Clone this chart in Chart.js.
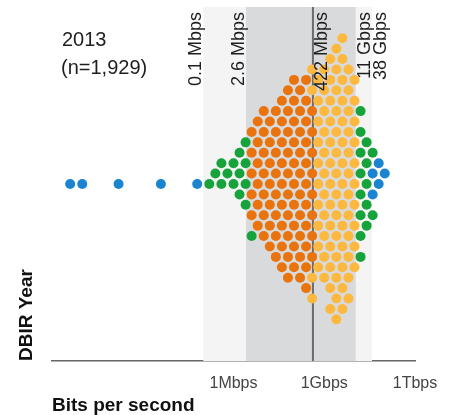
<!DOCTYPE html>
<html>
<head>
<meta charset="utf-8">
<script src="https://cdn.jsdelivr.net/npm/chart.js@4.4.1/dist/chart.umd.min.js"></script>
<style>
  html, body { margin: 0; padding: 0; background: #fff; }
  canvas { display: block; }
</style>
</head>
<body>
<canvas id="chart" width="455" height="415"></canvas>
<script>
// Attack sizes, binned in log10(bits per second); counts = dots per bin
const blueBins = [0.6, 1.0, 2.2, 3.6, 4.8, 10.6, 10.8, 11.0];
const blueCounts = [1, 1, 1, 1, 1, 2, 2, 1];
const greenBins = [5.2, 5.4, 5.6, 5.8, 6.0, 6.2, 6.4, 6.6, 10.2, 10.4, 10.6];
const greenCounts = [1, 1, 2, 1, 2, 3, 4, 1, 8, 5, 2];
const orangeBins = [6.6, 6.8, 7.0, 7.2, 7.4, 7.6, 7.8, 8.0, 8.2, 8.4, 8.6];
const orangeCounts = [5, 6, 7, 7, 8, 9, 10, 10, 10, 11, 8];
const yellowBins = [8.6, 8.8, 9.0, 9.2, 9.4, 9.6, 9.8, 10.0];
const yellowCounts = [4, 10, 11, 13, 14, 14, 12, 10];

// reference lines (bps) and their labels
const markValues = [1e5, 2.6e6, 422e6, 11e9, 38e9];
const markLabels = ['0.1 Mbps', '2.6 Mbps', '422 Mbps', '11 Gbps', '38 Gbps'];

const tickValues = [1e6, 1e9, 1e12];
const tickLabels = ['1Mbps', '1Gbps', '1Tbps'];

const yearLabel = '2013';
const countLabel = '(n=1,929)';

const FONT = '"Liberation Sans", Arial, sans-serif';

// stack dots in a hex pattern: each bin is a column, neighbours alternate rows
function layout(groups) {
    const keys = new Set();
    groups.forEach(g => g.bins.forEach(b => keys.add(Math.round(b * 5))));
    const parity = {};
    [...keys].sort((a, b) => a - b).forEach(k => {
        parity[k] = (k - 1) in parity ? 1 - parity[k - 1] : 0;
    });
    const used = {};
    return groups.map(g => {
        const pts = [];
        g.bins.forEach((b, i) => {
            const k = Math.round(b * 5);
            for (let n = 0; n < g.counts[i]; n++) {
                const s = used[k] || 0;
                used[k] = s + 1;
                let row;
                if (parity[k] === 0) row = s === 0 ? 0 : (s % 2 ? s + 1 : -s);
                else row = s % 2 === 0 ? s + 1 : -s;
                pts.push({x: Math.pow(10, b), y: row});
            }
        });
        return pts;
    });
}

const colors = {blue: '#1a84d0', green: '#17a33b', orange: '#e9730d', yellow: '#fdb83f'};
const order = [
    {bins: blueBins, counts: blueCounts, color: colors.blue},
    {bins: orangeBins, counts: orangeCounts, color: colors.orange},
    {bins: yellowBins, counts: yellowCounts, color: colors.yellow},
    {bins: greenBins, counts: greenCounts, color: colors.green}
];
const placed = layout(order);

const bandsPlugin = {
    id: 'bands',
    beforeDatasetsDraw(chart) {
        const {ctx, chartArea: a, scales: {x}} = chart;
        const px = markValues.map(v => x.getPixelForValue(v));
        ctx.save();
        ctx.fillStyle = '#f4f4f4';
        ctx.fillRect(px[0], a.top, px[4] - px[0], a.bottom - a.top);
        ctx.fillStyle = '#d9dadb';
        ctx.fillRect(px[1], a.top, px[3] - px[1], a.bottom - a.top);
        ctx.strokeStyle = '#6b6b6b';
        ctx.lineWidth = 2;
        ctx.beginPath();
        ctx.moveTo(px[2], a.top);
        ctx.lineTo(px[2], a.bottom);
        ctx.stroke();
        ctx.restore();
    },
    afterDatasetsDraw(chart) {
        const {ctx, chartArea: a, scales: {x}} = chart;
        ctx.save();
        ctx.fillStyle = '#1e1e1e';
        ctx.font = '18px ' + FONT;
        ctx.textBaseline = 'alphabetic';
        ctx.textAlign = 'right';
        markValues.forEach((v, i) => {
            const edge = x.getPixelForValue(v);
            // first two sit left of their edge, the rest to the right
            const bx = i < 2 ? edge - 2 : edge + 14;
            ctx.save();
            ctx.translate(bx, a.top + 5);
            ctx.rotate(-Math.PI / 2);
            ctx.fillText(markLabels[i], 0, 0);
            ctx.restore();
        });
        ctx.textAlign = 'left';
        ctx.font = '20px ' + FONT;
        ctx.fillText(yearLabel, a.left + 10, 46);
        ctx.fillText(countLabel, a.left + 9, 74);
        ctx.restore();
    }
};

new Chart(document.getElementById('chart').getContext('2d'), {
    type: 'scatter',
    data: {
        datasets: placed.map((pts, i) => ({
            data: pts,
            backgroundColor: order[i].color,
            borderWidth: 0,
            pointRadius: 5,
            pointHoverRadius: 5
        }))
    },
    options: {
        responsive: false,
        animation: false,
        devicePixelRatio: 1,
        layout: {padding: {top: 7, right: 40, bottom: 0, left: 0}},
        scales: {
            x: {
                type: 'logarithmic',
                min: 1,
                max: 1e12,
                afterBuildTicks: scale => {
                    scale.ticks = tickValues.map(v => ({value: v}));
                },
                afterFit: scale => { scale.height = 54; },
                grid: {display: false, drawTicks: false},
                border: {display: true, color: '#666', width: 1.5},
                ticks: {
                    autoSkip: false,
                    maxRotation: 0,
                    padding: 13,
                    color: '#444',
                    font: {family: FONT, size: 16},
                    callback: v => tickLabels[tickValues.indexOf(v)]
                },
                title: {
                    display: true,
                    text: 'Bits per second',
                    align: 'start',
                    color: '#111',
                    font: {family: FONT, size: 19, weight: 'bold', lineHeight: 1},
                    padding: {top: 0, bottom: 0}
                }
            },
            y: {
                min: -17,
                max: 17,
                afterFit: scale => { scale.width = 52; },
                grid: {display: false, drawTicks: false},
                border: {display: false},
                ticks: {display: false},
                title: {
                    display: true,
                    text: 'DBIR Year',
                    align: 'start',
                    color: '#111',
                    font: {family: FONT, size: 19, weight: 'bold', lineHeight: 1},
                    padding: {top: 17, bottom: 0}
                }
            }
        },
        plugins: {
            legend: {display: false},
            tooltip: {enabled: false}
        }
    },
    plugins: [bandsPlugin]
});
</script>
</body>
</html>
